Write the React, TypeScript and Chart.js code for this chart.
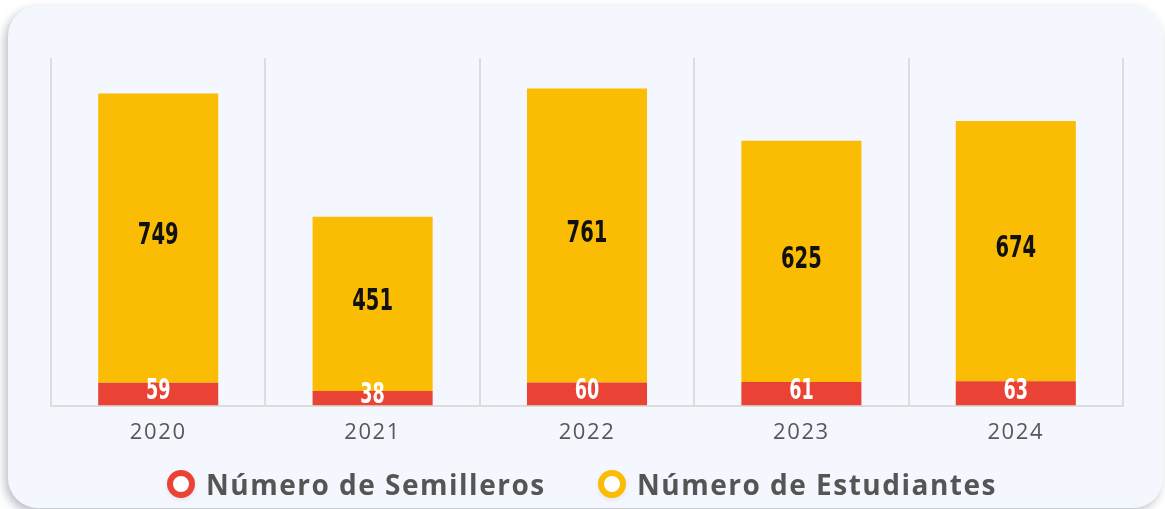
import React, { useEffect, useRef } from "react";
import { Chart, registerables } from "chart.js";

Chart.register(...registerables);

const years = ["2020", "2021", "2022", "2023", "2024"];
const semilleros = [59, 38, 60, 61, 63];
const estudiantes = [749, 451, 761, 625, 674];
const seriesNames = ["Número de Semilleros", "Número de Estudiantes"];
const seriesColors = ["#EA4335", "#FBBC04"];
const yMax = 900;

const LABEL_FONT = '"Liberation Sans Narrow", "DejaVu Sans Condensed", sans-serif';

const spacingPlugin = {
  id: "tickSpacing",
  beforeDraw(chart: any) {
    chart.ctx.letterSpacing = "1.6px";
  },
  beforeDatasetsDraw(chart: any) {
    chart.ctx.letterSpacing = "0px";
  },
};

const barLabels = {
  id: "barLabels",
  afterDatasetsDraw(chart: any) {
    const ctx = chart.ctx;
    chart.data.datasets.forEach((ds: any, di: number) => {
      const meta = chart.getDatasetMeta(di);
      meta.data.forEach((bar: any, i: number) => {
        const { x, y, base } = bar.getProps(["x", "y", "base"], true);
        const cy = (y + base) / 2 - 5;
        const size = di === 0 ? 28 : 31;
        ctx.save();
        ctx.letterSpacing = "0px";
        ctx.font = `bold ${size}px ${LABEL_FONT}`;
        ctx.fillStyle = di === 0 ? "#ffffff" : "#111111";
        ctx.textAlign = "center";
        ctx.textBaseline = "alphabetic";
        ctx.translate(x, cy + (size * 0.72) / 2);
        ctx.scale(0.7, 1);
        ctx.fillText(String(ds.data[i]), 0, 0);
        ctx.restore();
      });
    });
  },
};

export default function App() {
  const canvasRef = useRef<HTMLCanvasElement | null>(null);

  useEffect(() => {
    if (!canvasRef.current) return;
    const chart = new Chart(canvasRef.current, {
      type: "bar",
      data: {
        labels: years,
        datasets: [
          {
            label: seriesNames[0],
            data: semilleros,
            backgroundColor: seriesColors[0],
            barPercentage: 0.56,
            categoryPercentage: 1,
            stack: "s",
          },
          {
            label: seriesNames[1],
            data: estudiantes,
            backgroundColor: seriesColors[1],
            barPercentage: 0.56,
            categoryPercentage: 1,
            stack: "s",
          },
        ],
      },
      options: {
        responsive: true,
        maintainAspectRatio: false,
        animation: false,
        layout: { padding: { left: 51, right: 42, top: 58, bottom: 16 } },
        plugins: {
          legend: { display: false },
          tooltip: { enabled: false },
        },
        scales: {
          x: {
            stacked: true,
            grid: { offset: true, color: "#dcdcdc", lineWidth: 2, drawTicks: false },
            border: { color: "#dcdcdc", width: 2 },
            ticks: {
              color: "#585858",
              font: { family: "'Open Sans', sans-serif", size: 22 },
              padding: 14,
            },
          },
          y: {
            stacked: true,
            display: false,
            min: 0,
            max: yMax,
          },
        },
      },
      plugins: [spacingPlugin, barLabels],
    });
    return () => chart.destroy();
  }, []);

  const legendItem = (i: number, left: number) => (
    <div
      key={i}
      style={{
        position: "absolute",
        left,
        top: 468,
        height: 32,
        display: "flex",
        alignItems: "center",
        whiteSpace: "nowrap",
      }}
    >
      <span
        style={{
          display: "inline-block",
          boxSizing: "border-box",
          width: 28,
          height: 28,
          borderRadius: "50%",
          border: `6px solid ${seriesColors[i]}`,
          background: "#ffffff",
          marginRight: 11,
          boxShadow: "0 2px 4px rgba(0,0,0,0.08)",
        }}
      />
      <span
        style={{
          fontFamily: "'Open Sans', sans-serif",
          fontWeight: 700,
          fontSize: 28,
          color: "#555555",
          letterSpacing: 1.5,
        }}
      >
        {seriesNames[i]}
      </span>
    </div>
  );

  return (
    <div
      style={{
        position: "fixed",
        left: 0,
        top: 0,
        width: 1165,
        height: 509,
        background: "#ffffff",
        overflow: "hidden",
      }}
    >
      <div
        style={{
          position: "absolute",
          left: 8,
          top: 6,
          width: 1155,
          height: 502,
          borderRadius: 30,
          background: "#F4F7FD",
          boxShadow: "-3px 4px 10px rgba(100,110,130,0.45)",
        }}
      />
      <div style={{ position: "absolute", left: 0, top: 0, width: 1165, height: 476 }}>
        <canvas ref={canvasRef} />
      </div>
      {legendItem(0, 167)}
      {legendItem(1, 598)}
    </div>
  );
}
